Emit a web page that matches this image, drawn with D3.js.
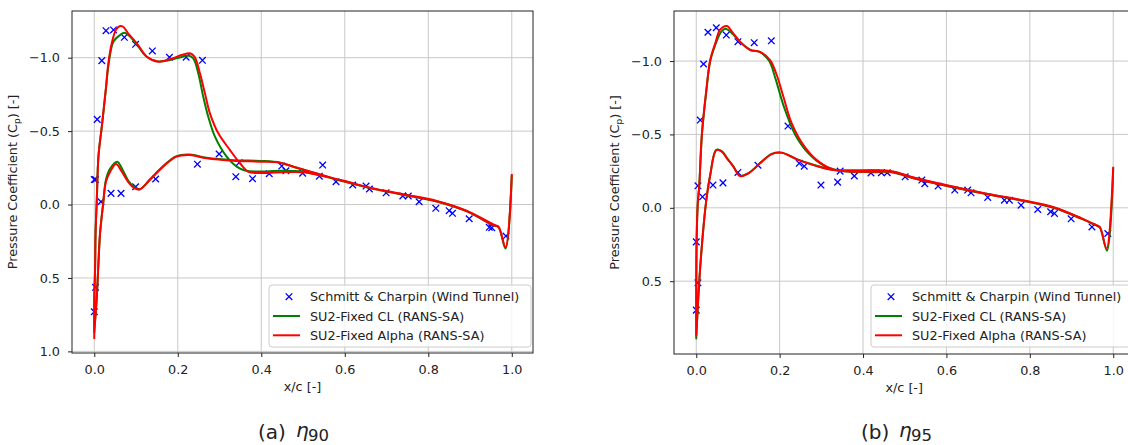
<!DOCTYPE html>
<html>
<head>
<meta charset="utf-8">
<script src="https://cdn.jsdelivr.net/npm/d3@7"></script>
<style>
body { margin: 0; background: #fff; }
svg text { font-family: "DejaVu Sans", sans-serif; fill: #222; }
</style>
</head>
<body>
<div id="chart"></div>
<script>
// Tick values and legend
var xTicks = [0, 0.2, 0.4, 0.6, 0.8, 1.0];
var yTicksA = [-1.0, -0.5, 0.0, 0.5, 1.0];
var yTicksB = [-1.0, -0.5, 0.0, 0.5];
var legendLabels = ["Schmitt & Charpin (Wind Tunnel)", "SU2-Fixed CL (RANS-SA)", "SU2-Fixed Alpha (RANS-SA)"];

// (a) eta 90 : wind tunnel points [x/c, Cp]
var expA = [[0.0, -0.17], [0.003, -0.17], [0.007, -0.58], [0.018, -0.98], [0.028, -1.184], [0.046, -1.189],
    [0.072, -1.139], [0.099, -1.091], [0.139, -1.046], [0.18, -1.003], [0.22, -1.003], [0.259, -0.982],
    [0.299, -0.344], [0.347, -0.285], [0.339, -0.19], [0.379, -0.176], [0.419, -0.21], [0.449, -0.262],
    [0.459, -0.23], [0.499, -0.214], [0.539, -0.193], [0.547, -0.269], [0.579, -0.155], [0.619, -0.133],
    [0.651, -0.126], [0.659, -0.106], [0.699, -0.08], [0.739, -0.058], [0.752, -0.058], [0.778, -0.019],
    [0.818, 0.026], [0.85, 0.042], [0.858, 0.06], [0.898, 0.097], [0.946, 0.155], [0.952, 0.158], [0.986, 0.215],
    [0.016, -0.019], [0.04, -0.076], [0.064, -0.076], [0.099, -0.121], [0.147, -0.174], [0.247, -0.275],
    [0.003, 0.564], [0.0, 0.73]];

// (a) SU2 fixed CL, suction side (LE -> TE) and pressure side (LE -> TE)
var clUpperA = [[0.0, 0.87], [0.0, 0.65], [0.002, 0.42], [0.003, 0.2], [0.006, -0.03], [0.01, -0.33],
    [0.018, -0.53], [0.028, -0.79], [0.034, -0.95], [0.046, -1.11], [0.062, -1.155], [0.072, -1.17],
    [0.086, -1.143], [0.102, -1.09], [0.126, -1.005], [0.153, -0.975], [0.181, -0.985], [0.209, -1.005],
    [0.225, -1.015], [0.237, -0.995], [0.249, -0.894], [0.261, -0.734], [0.273, -0.598], [0.289, -0.462],
    [0.317, -0.326], [0.341, -0.258], [0.361, -0.232], [0.39, -0.225], [0.45, -0.23], [0.5, -0.224],
    [0.54, -0.2], [0.6, -0.158], [0.66, -0.113], [0.74, -0.068], [0.82, -0.023], [0.89, 0.042],
    [0.956, 0.138], [0.968, 0.15]];
var clLowerA = [[0.0, 0.86], [0.0056, 0.65], [0.0096, 0.42], [0.0137, 0.2], [0.021, 0.0], [0.028, -0.17],
    [0.038, -0.245], [0.055, -0.292], [0.068, -0.235], [0.082, -0.16], [0.097, -0.115], [0.109, -0.105],
    [0.133, -0.17], [0.165, -0.262], [0.197, -0.33], [0.229, -0.34], [0.269, -0.318], [0.333, -0.302],
    [0.4, -0.297], [0.445, -0.285], [0.485, -0.25], [0.541, -0.203], [0.596, -0.158], [0.66, -0.113],
    [0.74, -0.066], [0.82, -0.02], [0.892, 0.047], [0.956, 0.142], [0.968, 0.153], [0.985, 0.3], [1.0, -0.2]];

// (a) SU2 fixed alpha
var alphaUpperA = [[0.0, 0.91], [0.0, 0.65], [0.002, 0.42], [0.003, 0.2], [0.006, -0.03], [0.01, -0.33],
    [0.018, -0.53], [0.028, -0.8], [0.034, -0.97], [0.042, -1.1], [0.052, -1.19], [0.062, -1.216],
    [0.069, -1.211], [0.081, -1.166], [0.102, -1.098], [0.126, -1.007], [0.153, -0.973], [0.181, -0.989],
    [0.209, -1.018], [0.229, -1.03], [0.24, -1.007], [0.253, -0.894], [0.265, -0.757], [0.277, -0.621],
    [0.297, -0.485], [0.325, -0.371], [0.349, -0.281], [0.369, -0.223], [0.39, -0.215], [0.45, -0.22],
    [0.5, -0.22], [0.54, -0.2], [0.6, -0.16], [0.66, -0.115], [0.74, -0.07], [0.82, -0.025], [0.89, 0.04],
    [0.956, 0.135], [0.968, 0.148]];
var alphaLowerA = [[0.0, 0.88], [0.0056, 0.65], [0.0096, 0.42], [0.0137, 0.2], [0.021, 0.0], [0.028, -0.155],
    [0.038, -0.223], [0.052, -0.276], [0.066, -0.223], [0.081, -0.155], [0.097, -0.11], [0.109, -0.103],
    [0.133, -0.167], [0.165, -0.258], [0.197, -0.326], [0.229, -0.337], [0.269, -0.315], [0.333, -0.298],
    [0.397, -0.292], [0.445, -0.285], [0.485, -0.25], [0.541, -0.205], [0.596, -0.16], [0.66, -0.115],
    [0.74, -0.068], [0.82, -0.022], [0.892, 0.045], [0.956, 0.14], [0.968, 0.151], [0.985, 0.29], [1.0, -0.208]];

// (b) eta 95 : wind tunnel points
var expB = [[0.004, -0.15], [0.015, -0.075], [0.0096, -0.598], [0.0175, -0.98], [0.028, -1.196], [0.048, -1.227],
    [0.072, -1.177], [0.1, -1.132], [0.139, -1.125], [0.18, -1.138], [0.22, -0.557], [0.247, -0.303],
    [0.259, -0.284], [0.299, -0.155], [0.339, -0.175], [0.345, -0.25], [0.379, -0.217], [0.419, -0.237],
    [0.444, -0.239], [0.458, -0.239], [0.501, -0.211], [0.541, -0.189], [0.548, -0.164], [0.58, -0.148],
    [0.62, -0.121], [0.651, -0.121], [0.659, -0.102], [0.699, -0.071], [0.739, -0.052], [0.751, -0.052],
    [0.779, -0.018], [0.819, 0.011], [0.85, 0.027], [0.859, 0.038], [0.899, 0.075], [0.949, 0.13], [0.987, 0.175],
    [0.04, -0.155], [0.064, -0.17], [0.1, -0.241], [0.148, -0.29], [0.0, 0.232], [0.004, 0.511], [0.0, 0.697]];

var clUpperB = [[0.0, 0.89], [0.0, 0.6], [0.001, 0.2], [0.004, -0.05], [0.007, -0.143], [0.0136, -0.5],
    [0.024, -0.79], [0.0335, -1.0], [0.0455, -1.11], [0.06, -1.2], [0.07, -1.22], [0.0855, -1.19],
    [0.105, -1.13], [0.129, -1.078], [0.153, -1.06], [0.175, -1.0], [0.19, -0.88], [0.21, -0.69],
    [0.237, -0.5], [0.268, -0.375], [0.305, -0.29], [0.345, -0.253], [0.42, -0.243], [0.468, -0.243],
    [0.524, -0.2], [0.604, -0.147], [0.699, -0.092], [0.779, -0.05], [0.859, 0.002], [0.923, 0.074],
    [0.96, 0.12], [0.968, 0.132]];
var clLowerB = [[0.0, 0.89], [0.0096, 0.4], [0.024, -0.05], [0.0335, -0.225], [0.048, -0.395],
    [0.0615, -0.385], [0.0735, -0.34], [0.089, -0.282], [0.105, -0.218], [0.125, -0.236], [0.153, -0.305],
    [0.181, -0.368], [0.205, -0.376], [0.241, -0.332], [0.281, -0.293], [0.329, -0.258], [0.393, -0.254],
    [0.468, -0.248], [0.524, -0.203], [0.604, -0.15], [0.699, -0.094], [0.779, -0.052], [0.859, -0.001],
    [0.923, 0.072], [0.96, 0.122], [0.968, 0.134], [0.985, 0.292], [1.0, -0.27]];

var alphaUpperB = [[0.0, 0.87], [0.0, 0.6], [0.001, 0.2], [0.004, -0.05], [0.007, -0.143], [0.0136, -0.507],
    [0.024, -0.8], [0.0335, -1.007], [0.0455, -1.12], [0.0575, -1.216], [0.0735, -1.239], [0.0855, -1.2],
    [0.105, -1.132], [0.129, -1.075], [0.153, -1.063], [0.177, -1.007], [0.193, -0.905], [0.209, -0.757],
    [0.229, -0.575], [0.257, -0.427], [0.289, -0.325], [0.329, -0.26], [0.369, -0.247], [0.42, -0.245],
    [0.468, -0.245], [0.524, -0.2], [0.604, -0.148], [0.699, -0.093], [0.779, -0.052], [0.859, 0.0],
    [0.923, 0.072], [0.96, 0.118], [0.968, 0.13]];
var alphaLowerB = [[0.0, 0.87], [0.0096, 0.4], [0.024, -0.05], [0.0335, -0.223], [0.048, -0.393],
    [0.0615, -0.382], [0.0735, -0.337], [0.089, -0.28], [0.105, -0.216], [0.125, -0.234], [0.153, -0.303],
    [0.181, -0.366], [0.205, -0.375], [0.241, -0.33], [0.281, -0.291], [0.329, -0.257], [0.393, -0.255],
    [0.468, -0.25], [0.524, -0.205], [0.604, -0.152], [0.699, -0.095], [0.779, -0.054], [0.859, -0.003],
    [0.923, 0.07], [0.96, 0.12], [0.968, 0.132], [0.984, 0.277], [1.0, -0.28]];

var svgWidth = 1128;
var svgHeight = 445;
var fontSize = "12.8px";

var svg = d3.select("#chart")
    .append("svg")
    .attr("width", svgWidth)
    .attr("height", svgHeight);

var xDomain = [-0.0534, 1.0508];

function drawPanel(p) {
    var g = svg.append("g");
    var id = "clip" + p.name;

    var x = d3.scaleLinear().domain(xDomain).range([p.left, p.right]);
    var y = d3.scaleLinear().domain(p.yDomain).range([p.top, p.bottom]);

    g.append("clipPath").attr("id", id)
        .append("rect")
        .attr("x", p.left).attr("y", p.top)
        .attr("width", p.right - p.left).attr("height", p.bottom - p.top);

    // grid
    g.selectAll(".gx").data(xTicks).enter().append("line")
        .attr("x1", d => x(d)).attr("x2", d => x(d))
        .attr("y1", p.top).attr("y2", p.bottom)
        .attr("stroke", "#c8c8c8").attr("stroke-width", 1);
    g.selectAll(".gy").data(p.yTicks).enter().append("line")
        .attr("x1", p.left).attr("x2", p.right)
        .attr("y1", d => y(d)).attr("y2", d => y(d))
        .attr("stroke", "#c8c8c8").attr("stroke-width", 1);

    var line = d3.line()
        .x(d => x(d[0]))
        .y(d => y(d[1]))
        .curve(d3.curveCatmullRom.alpha(0.5));

    var plot = g.append("g").attr("clip-path", `url(#${id})`);

    // blue crosses
    plot.selectAll(".exp").data(p.exp).enter().append("path")
        .attr("transform", d => `translate(${x(d[0])},${y(d[1])})`)
        .attr("d", "M-3.3,-3.3L3.3,3.3M-3.3,3.3L3.3,-3.3")
        .attr("stroke", "#0000ff")
        .attr("stroke-width", 1.3)
        .attr("fill", "none");

    // SU2 curves: suction side from TE to LE, then pressure side back to TE
    plot.append("path")
        .attr("d", line(p.clUpper.slice().reverse().concat(p.clLower)))
        .attr("fill", "none").attr("stroke", "#008000").attr("stroke-width", 2)
        .attr("stroke-linejoin", "round");
    plot.append("path")
        .attr("d", line(p.alphaUpper.slice().reverse().concat(p.alphaLower)))
        .attr("fill", "none").attr("stroke", "#ff0000").attr("stroke-width", 2)
        .attr("stroke-linejoin", "round");

    // axes
    var fmt = d3.format(".1f");
    var xAxis = g.append("g")
        .attr("transform", `translate(0,${p.bottom})`)
        .call(d3.axisBottom(x).tickValues(xTicks).tickFormat(fmt).tickSize(4).tickPadding(8));
    var yAxis = g.append("g")
        .attr("transform", `translate(${p.left},0)`)
        .call(d3.axisLeft(y).tickValues(p.yTicks).tickFormat(fmt).tickSize(4).tickPadding(8));
    [xAxis, yAxis].forEach(function(a) {
        a.select(".domain").remove();
        a.selectAll("line").attr("stroke", "#222");
        a.selectAll("text").attr("font-size", fontSize).attr("font-family", "DejaVu Sans").attr("fill", "#222");
    });

    // spines
    g.append("rect")
        .attr("x", p.left).attr("y", p.top)
        .attr("width", p.right - p.left).attr("height", p.bottom - p.top)
        .attr("fill", "none").attr("stroke", "#222").attr("stroke-width", 1);

    // axis labels
    g.append("text")
        .attr("x", (p.left + p.right) / 2)
        .attr("y", p.bottom + 38)
        .attr("text-anchor", "middle")
        .attr("font-size", fontSize)
        .text("x/c [-]");

    var yl = g.append("text")
        .attr("transform", `translate(${p.left - 55},${(p.top + p.bottom) / 2}) rotate(-90)`)
        .attr("text-anchor", "middle")
        .attr("font-size", fontSize);
    yl.append("tspan").text("Pressure Coefficient (C");
    yl.append("tspan").attr("font-size", "9px").attr("dy", 3).text("p");
    yl.append("tspan").attr("dy", -3).text(") [-]");

    // legend
    var lg = g.append("g").attr("transform", `translate(${p.legX},285)`);
    lg.append("rect")
        .attr("width", 262).attr("height", 62).attr("rx", 3)
        .attr("fill", "#fff").attr("fill-opacity", 0.8)
        .attr("stroke", "#cccccc").attr("stroke-width", 1);
    var rows = lg.selectAll(".row").data(legendLabels).enter().append("g")
        .attr("transform", (d, i) => `translate(0,${11.7 + i * 19.3})`);
    rows.filter((d, i) => i === 0).append("path")
        .attr("transform", "translate(20,0)")
        .attr("d", "M-3.3,-3.3L3.3,3.3M-3.3,3.3L3.3,-3.3")
        .attr("stroke", "#0000ff").attr("stroke-width", 1.3);
    rows.filter((d, i) => i > 0).append("line")
        .attr("x1", 4).attr("x2", 31)
        .attr("stroke", (d, i) => i === 0 ? "#008000" : "#ff0000")
        .attr("stroke-width", 2);
    rows.append("text")
        .attr("x", 41).attr("y", 4.6)
        .attr("font-size", fontSize)
        .text(d => d);

    // caption
    var cap = svg.append("g");
    cap.append("text").attr("x", p.capX).attr("y", 439).attr("font-size", "20px").text(p.capLetter);
    cap.append("text").attr("x", p.capX + 38).attr("y", 437)
        .attr("font-family", "DejaVu Serif").attr("font-style", "italic").attr("font-size", "20px").text("η");
    cap.append("text").attr("x", p.capX + 50).attr("y", 441)
        .attr("font-family", "DejaVu Serif").attr("font-size", "16.5px").text(p.capSub);
}

drawPanel({
    name: "A", left: 72, right: 533, top: 11, bottom: 353,
    yDomain: [-1.318, 1.011], yTicks: yTicksA,
    exp: expA, clUpper: clUpperA, clLower: clLowerA, alphaUpper: alphaUpperA, alphaLower: alphaLowerA,
    legX: 269, capX: 258, capLetter: "(a)", capSub: "90"
});

drawPanel({
    name: "B", left: 674, right: 1134.4, top: 11, bottom: 354,
    yDomain: [-1.341, 0.996], yTicks: yTicksB,
    exp: expB, clUpper: clUpperB, clLower: clLowerB, alphaUpper: alphaUpperB, alphaLower: alphaLowerB,
    legX: 871, capX: 861, capLetter: "(b)", capSub: "95"
});
</script>
</body>
</html>
